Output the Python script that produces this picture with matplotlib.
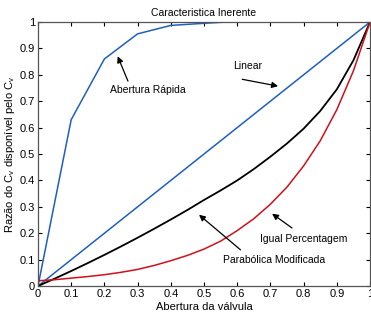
import numpy as np
import matplotlib
matplotlib.use('Agg')
import matplotlib.pyplot as plt

plt.rcParams['font.family'] = ['Liberation Sans', 'DejaVu Sans']
plt.rcParams['mathtext.fontset'] = 'custom'
plt.rcParams['mathtext.rm'] = 'Liberation Sans'
plt.rcParams['mathtext.it'] = 'Liberation Sans'

# valve opening (fraction)
x_quick = [0.0, 0.1, 0.2, 0.3, 0.4, 0.5, 0.57, 0.7, 0.8, 0.9, 1.0]
y_quick = [0.0, 0.63, 0.86, 0.955, 0.987, 0.995, 1.0, 1.0, 1.0, 1.0, 1.0]

x_linear = [0.0, 1.0]
y_linear = [0.0, 1.0]

x_curve = [0.0, 0.05, 0.1, 0.15, 0.2, 0.25, 0.3, 0.35, 0.4, 0.45, 0.5,
           0.55, 0.6, 0.65, 0.7, 0.75, 0.8, 0.85, 0.9, 0.95, 1.0]
y_parab = [0.0, 0.028, 0.057, 0.087, 0.118, 0.15, 0.183, 0.217, 0.252, 0.288, 0.326,
           0.362, 0.40, 0.443, 0.49, 0.54, 0.596, 0.663, 0.745, 0.855, 1.0]
y_equal = [0.02, 0.024, 0.03, 0.036, 0.043, 0.052, 0.063, 0.078, 0.096, 0.116, 0.14,
           0.17, 0.21, 0.255, 0.31, 0.375, 0.455, 0.55, 0.668, 0.815, 1.0]

ticks = np.round(np.arange(0, 1.01, 0.1), 1)
tick_labels = ['0', '0.1', '0.2', '0.3', '0.4', '0.5', '0.6', '0.7', '0.8', '0.9', '1']

fig = plt.figure(figsize=(3.71, 3.14), dpi=100)
ax = fig.add_axes([0.1024, 0.089, 0.895, 0.841])

blue = '#1f5fbf'
ax.plot(x_quick, y_quick, color=blue, lw=1.1)
ax.plot(x_linear, y_linear, color=blue, lw=1.1)
ax.plot(x_curve, y_parab, color='black', lw=1.3)
ax.plot(x_curve, y_equal, color='#d0101c', lw=1.1)

ax.set_xlim(0, 1)
ax.set_ylim(0, 1)
ax.set_xticks(ticks)
ax.set_xticklabels(tick_labels)
ax.set_yticks(ticks)
ax.set_yticklabels(tick_labels)
ax.tick_params(direction='in', length=3, width=0.8, labelsize=8, pad=2,
               top=True, right=True)
for s in ax.spines.values():
    s.set_color('#555555')
    s.set_linewidth(0.9)

ax.set_title('Caracteristica Inerente', fontsize=7.5, pad=4)
ax.set_xlabel('Abertura da válvula', fontsize=8, labelpad=2)
ax.set_ylabel('Razão do C$_v$ disponível pelo C$_v$', fontsize=8, labelpad=2)

arrow = dict(arrowstyle='-|>', color='black', lw=0.9, mutation_scale=9,
             shrinkA=0, shrinkB=0)
ax.annotate('', xy=(0.24, 0.87), xytext=(0.271, 0.776), arrowprops=arrow)
ax.text(0.331, 0.741, 'Abertura Rápida', fontsize=7.5, ha='center', va='center')

ax.annotate('', xy=(0.723, 0.757), xytext=(0.615, 0.783), arrowprops=arrow)
ax.text(0.63, 0.833, 'Linear', fontsize=7.5, ha='center', va='center')

ax.annotate('', xy=(0.705, 0.274), xytext=(0.765, 0.22), arrowprops=arrow)
ax.text(0.80, 0.18, 'Igual Percentagem', fontsize=7.5, ha='center', va='center')

ax.annotate('', xy=(0.485, 0.27), xytext=(0.61, 0.137), arrowprops=arrow)
ax.text(0.71, 0.097, 'Parabólica Modificada', fontsize=7.5, ha='center', va='center')

fig.savefig('out.png', dpi=100)
